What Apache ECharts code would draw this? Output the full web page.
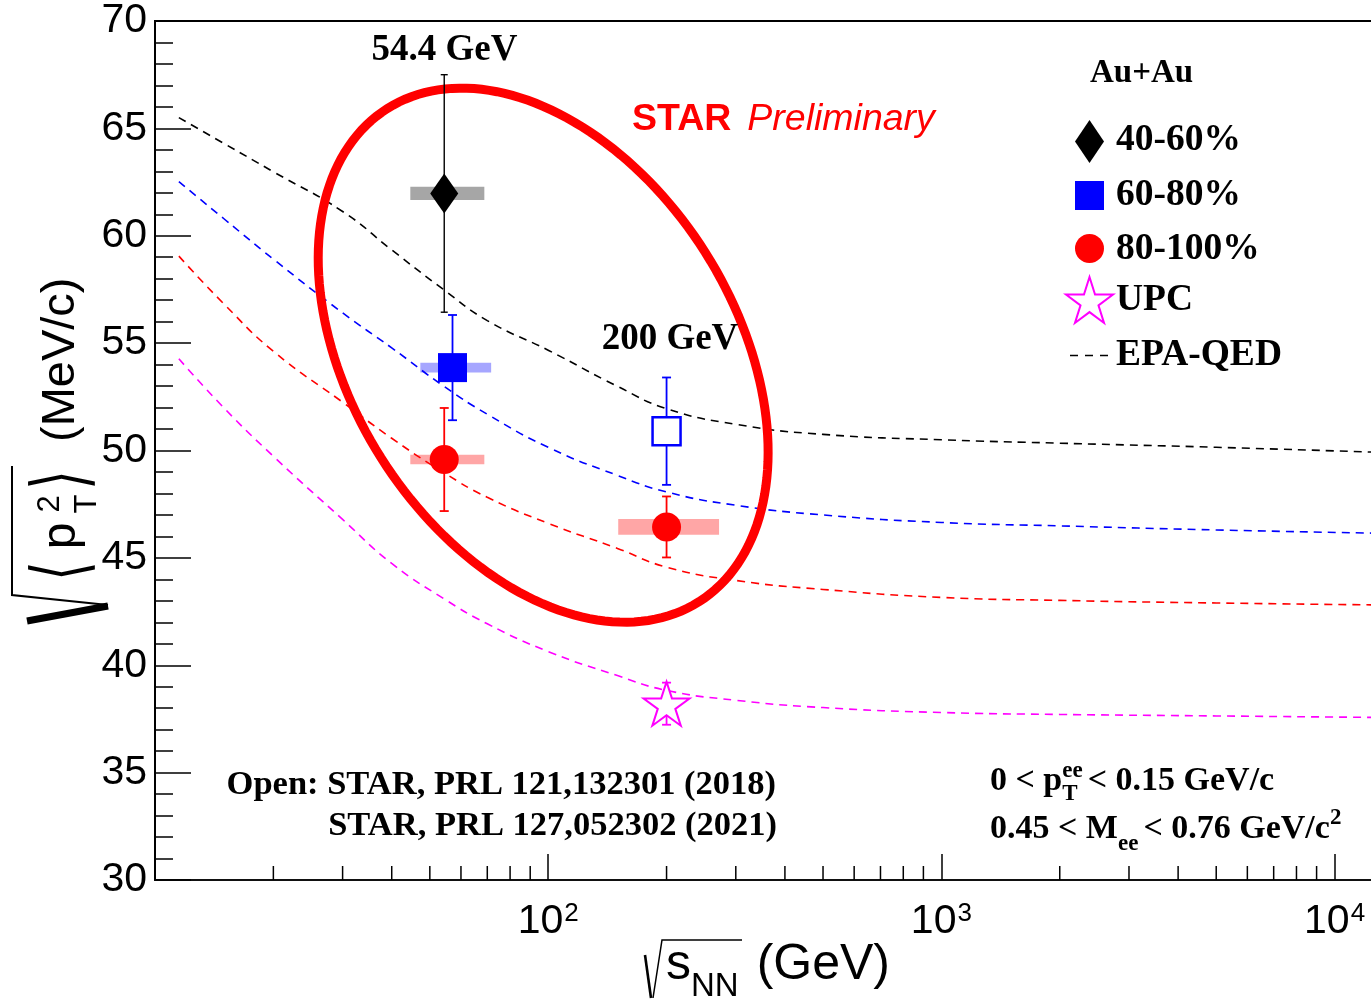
<!DOCTYPE html>
<html><head><meta charset="utf-8">
<script src="https://cdn.jsdelivr.net/npm/echarts@6/dist/echarts.min.js"></script>
<style>html,body{margin:0;padding:0;background:#fff}#c{width:1371px;height:1000px}</style>
</head><body><div id="c"></div>
<script>
// ---------------- DATA ----------------
const curveEnergies = [11.5, 15, 20, 30, 40, 54.4, 70, 100, 150, 200, 300, 500, 1000, 2000, 5000, 12745];
const epa4060  = [65.50, 64.29, 62.98, 61.13, 59.34, 57.47, 56.05, 54.67, 52.99, 51.95, 51.22, 50.75, 50.50, 50.34, 50.15, 49.92];
const epa6080  = [62.52, 60.78, 58.91, 56.41, 54.78, 52.98, 51.69, 50.15, 48.84, 48.07, 47.45, 47.00, 46.65, 46.49, 46.30, 46.15];
const epa80100 = [59.05, 56.81, 54.62, 52.25, 50.57, 48.96, 47.82, 46.61, 45.44, 44.57, 43.95, 43.53, 43.16, 43.02, 42.90, 42.81];
const epaUPC   = [54.27, 51.97, 49.73, 46.79, 44.74, 43.09, 41.93, 40.64, 39.52, 38.83, 38.37, 38.03, 37.80, 37.71, 37.64, 37.57];

const energy4060 = [54.4],  mean4060 = [61.97], stat4060 = [5.53], sys4060 = [0.31];
const sysRange4060 = [[44.6, 68.8]];
const energy6080 = [57.1],  mean6080 = [53.86], stat6080 = [2.45], sys6080 = [0.225];
const sysRange6080 = [[47.3, 71.6]];
const energy6080open = [200], mean6080open = [50.9], stat6080open = [2.5];
const energy80100 = [54.4, 200], mean80100 = [49.58, 46.44], stat80100 = [2.4, 1.42], sys80100 = [0.225, 0.365];
const sysRange80100 = [[44.6, 68.8], [150.7, 272]];
const energyUPC = [200], meanUPC = [38.21], statUPC = [0.98];

const xTickExponents = [2, 3, 4];
const xMinorTicks = [20,30,40,50,60,70,80,90,200,300,400,500,600,700,800,900,2000,3000,4000,5000,6000,7000,8000,9000];
const ellipseCenter = [97.1, 54.44];

// ---------------- HELPERS ----------------
const SERIF = '"Liberation Serif","Times New Roman",serif';
const SANS = '"Liberation Sans",Arial,Helvetica,sans-serif';
const fB = s => `bold ${s}px ${SERIF}`;
const ctx2d = document.createElement('canvas').getContext('2d');
function tw(t, font) { ctx2d.font = font; return ctx2d.measureText(t).width; }
function txt(t, x, y, font, opt) {
  opt = opt || {};
  const al = opt.align || 'left';
  const el = { type: 'text', x: x, y: y, rotation: opt.rot || 0, z: 100, silent: true,
    style: { text: t, font: font, fill: opt.fill || '#000', align: al, verticalAlign: 'middle',
             textAlign: al, textVerticalAlign: 'middle' } };
  if (opt.scaleY) el.scaleY = opt.scaleY;
  if (opt.scaleX) el.scaleX = opt.scaleX;
  return el;
}
function flow(x0, yc, pieces) {
  const els = []; let x = x0;
  for (const p of pieces) {
    if (p.stack) {
      let w = 0;
      for (const s of p.stack) { els.push(txt(s.t, x, yc + (s.dy || 0), s.font, {fill: s.fill})); w = Math.max(w, tw(s.t, s.font)); }
      x += w + (p.gap || 0);
    } else {
      els.push(txt(p.t, x, yc + (p.dy || 0), p.font, {fill: p.fill}));
      x += tw(p.t, p.font) + (p.gap || 0);
    }
  }
  return els;
}
const starPath = 'path://M0,-100 L22.45,-30.9 L95.1,-30.9 L36.33,11.8 L58.78,80.9 L0,38.2 L-58.78,80.9 L-36.33,11.8 L-95.1,-30.9 L-22.45,-30.9 Z';
const starUnit = [[0,-1],[0.2245,-0.309],[0.951,-0.309],[0.3633,0.118],[0.5878,0.809],[0,0.382],[-0.5878,0.809],[-0.3633,0.118],[-0.951,-0.309],[-0.2245,-0.309]];

function zip(xs, ys) { return xs.map((x, i) => [x, ys[i]]); }
function curveSeries(ys, color) {
  return { type: 'line', data: zip(curveEnergies, ys), symbol: 'none', smooth: 0.5,
    z: 2, silent: true, lineStyle: { color: color, width: 1.6, type: [8, 6] } };
}
function sysSeries(ranges, means, sys, color) {
  return { type: 'custom', z: 1, silent: true,
    data: ranges.map((r, i) => [r[0], r[1], means[i] - sys[i], means[i] + sys[i]]),
    encode: { x: [0, 1], y: [2, 3] },
    renderItem: (params, api) => {
      const p1 = api.coord([api.value(0), api.value(3)]);
      const p2 = api.coord([api.value(1), api.value(2)]);
      return { type: 'rect', shape: { x: p1[0], y: p1[1], width: p2[0] - p1[0], height: p2[1] - p1[1] }, style: { fill: color } };
    } };
}
function errSeries(xs, means, stats, color, lw, cap) {
  return { type: 'custom', z: 4, silent: true,
    data: xs.map((x, i) => [x, means[i] - stats[i], means[i] + stats[i]]),
    encode: { x: 0, y: [1, 2] },
    renderItem: (params, api) => {
      const a = api.coord([api.value(0), api.value(2)]);
      const b = api.coord([api.value(0), api.value(1)]);
      const st = { stroke: color, lineWidth: lw };
      return { type: 'group', children: [
        { type: 'line', shape: { x1: a[0], y1: a[1], x2: b[0], y2: b[1] }, style: st },
        { type: 'line', shape: { x1: a[0] - cap, y1: a[1], x2: a[0] + cap, y2: a[1] }, style: st },
        { type: 'line', shape: { x1: b[0] - cap, y1: b[1], x2: b[0] + cap, y2: b[1] }, style: st }
      ] };
    } };
}

// ---------------- GRAPHICS (text & legend) ----------------
const g = [];
g.push(txt('54.4 GeV', 444.5, 50, fB(37), {align: 'center'}));
g.push(txt('200 GeV', 670, 339.5, fB(37), {align: 'center'}));
g.push(...flow(632, 120, [
  { t: 'STAR', font: `bold 37.5px ${SANS}`, fill: '#ff0000', gap: 16 },
  { t: 'Preliminary', font: `italic 37.5px ${SANS}`, fill: '#ff0000' }]));
g.push(txt('Au+Au', 1090, 73, fB(33)));
g.push(txt('40-60%', 1116, 140.5, fB(37.5)));
g.push(txt('60-80%', 1116, 195.5, fB(37.5)));
g.push(txt('80-100%', 1116, 249.5, fB(37.5)));
g.push(txt('UPC', 1116, 300, fB(37.5)));
g.push(txt('EPA-QED', 1116, 355.5, fB(37.5)));
// legend symbols
g.push({ type: 'polygon', silent: true, z: 100, shape: { points: [[1089.5,120],[1104,141.5],[1089.5,163],[1075,141.5]] }, style: { fill: '#000' } });
g.push({ type: 'rect', silent: true, z: 100, shape: { x: 1075, y: 181, width: 29, height: 29 }, style: { fill: '#0000ff' } });
g.push({ type: 'circle', silent: true, z: 100, shape: { cx: 1089.5, cy: 248.5, r: 14.5 }, style: { fill: '#ff0000' } });
g.push({ type: 'polygon', silent: true, z: 100, shape: { points: starUnit.map(p => [1089.5 + p[0]*24.7, 302.4 + p[1]*25.4]) }, style: { fill: null, stroke: '#ff00ff', lineWidth: 2 } });
g.push({ type: 'line', silent: true, z: 100, shape: { x1: 1070, y1: 355.5, x2: 1108, y2: 355.5 }, style: { stroke: '#000', lineWidth: 1.6, lineDash: [8, 7] } });
// bottom-left reference text
g.push(txt('Open: STAR, PRL 121,132301 (2018)', 776, 785, fB(34.5), {align: 'right'}));
g.push(txt('STAR, PRL 127,052302 (2021)', 777, 826.5, fB(34.5), {align: 'right'}));
// bottom-right cuts
g.push(...flow(990, 781, [
  { t: '0 < p', font: fB(34) },
  { stack: [ { t: 'ee', font: fB(23), dy: -10 }, { t: 'T', font: fB(23), dy: 13 } ], gap: 5 },
  { t: '< 0.15 GeV/c', font: fB(34) }]));
g.push(...flow(990, 829, [
  { t: '0.45 < M', font: fB(34) },
  { t: 'ee', font: fB(23), dy: 15, gap: 5 },
  { t: '< 0.76 GeV/c', font: fB(34) },
  { t: '2', font: fB(23), dy: -11 }]));
// x-axis title
g.push(...flow(666, 965, [
  { t: 's', font: `50px ${SANS}` },
  { t: 'NN', font: `33px ${SANS}`, dy: 22, gap: 18 },
  { t: '(GeV)', font: `50px ${SANS}` }]));
g.push({ type: 'polyline', silent: true, z: 100, shape: { points: [[653,998],[662,940],[742,940]] }, style: { stroke: '#000', lineWidth: 1.5, fill: null } });
g.push({ type: 'line', silent: true, z: 100, shape: { x1: 645, y1: 955, x2: 651, y2: 998 }, style: { stroke: '#000', lineWidth: 2.6 } });
// y-axis title (rotated)
const R = Math.PI / 2;
g.push(txt('(MeV/c)', 61.5, 442, `47px ${SANS}`, {rot: R}));
g.push(txt('\u27E8', 66, 571, `50px "DejaVu Sans"`, {rot: R, align: 'center', scaleY: 1.5}));
g.push(txt('p', 61.5, 536, `48px ${SANS}`, {rot: R, align: 'center'}));
g.push(txt('2', 50.5, 504, `31px ${SANS}`, {rot: R, align: 'center'}));
g.push(txt('T', 87.5, 504, `31px ${SANS}`, {rot: R, align: 'center'}));
g.push(txt('\u27E9', 66, 480, `50px "DejaVu Sans"`, {rot: R, align: 'center', scaleY: 1.5}));
g.push({ type: 'polyline', silent: true, z: 100, shape: { points: [[12,466],[12,595],[108,605]] }, style: { stroke: '#000', lineWidth: 2, fill: null } });
g.push({ type: 'line', silent: true, z: 100, shape: { x1: 27, y1: 621, x2: 108, y2: 606 }, style: { stroke: '#000', lineWidth: 7 } });

// ---------------- CHART ----------------
const chart = echarts.init(document.getElementById('c'), null, { renderer: 'canvas' });
chart.setOption({
  animation: false,
  backgroundColor: '#ffffff',
  grid: { left: 155, right: -5, top: 21, bottom: 120, show: true, borderColor: '#000', borderWidth: 2,
          backgroundColor: 'transparent', containLabel: false, outerBoundsMode: 'none' },
  xAxis: {
    type: 'log', logBase: 10, min: 10, max: 12745,
    axisLine: { show: true, onZero: false, lineStyle: { color: '#111', width: 2 } },
    axisTick: { show: true, inside: true, length: 26, lineStyle: { color: '#000', width: 1.5 } },
    splitLine: { show: false }, minorTick: { show: false }, minorSplitLine: { show: false },
    axisLabel: {
      margin: 21, color: '#000', fontSize: 41, fontFamily: SANS, lineHeight: 41,
      formatter: v => {
        const l = Math.log10(v), e = Math.round(l);
        if (Math.abs(l - e) > 1e-6 || xTickExponents.indexOf(e) < 0) return '';
        return '10{sup|' + e + '}';
      },
      rich: { sup: { fontSize: 26, lineHeight: 26, fontFamily: SANS, color: '#000', verticalAlign: 'top', padding: [0, 0, 0, 1] } }
    }
  },
  yAxis: {
    type: 'value', min: 30, max: 70, interval: 5,
    axisLine: { show: true, lineStyle: { color: '#000', width: 2 } },
    axisTick: { show: true, inside: true, length: 36, lineStyle: { color: '#000', width: 1.5 } },
    minorTick: { show: true, splitNumber: 5, length: 18, lineStyle: { color: '#000', width: 1.5 } },
    splitLine: { show: false }, minorSplitLine: { show: false },
    axisLabel: { margin: 8, color: '#000', fontSize: 41, fontFamily: SANS }
  },
  graphic: { elements: g },
  series: [
    sysSeries(sysRange4060, mean4060, sys4060, '#a6a6a6'),
    sysSeries(sysRange6080, mean6080, sys6080, '#a6a6ff'),
    sysSeries(sysRange80100, mean80100, sys80100, '#ffa6a6'),
    curveSeries(epa4060, '#000000'),
    curveSeries(epa6080, '#0000ff'),
    curveSeries(epa80100, '#ff0000'),
    curveSeries(epaUPC, '#ff00ff'),
    { type: 'custom', z: 3, silent: true, data: [ellipseCenter], encode: { x: 0, y: 1 },
      renderItem: (params, api) => {
        const c = api.coord([api.value(0), api.value(1)]);
        const a = 291.7, b = 191.9, th = 57.7 * Math.PI / 180;
        const pts = [];
        for (let i = 0; i < 180; i++) {
          const t = i / 180 * 2 * Math.PI;
          pts.push([c[0] + a*Math.cos(t)*Math.cos(th) - b*Math.sin(t)*Math.sin(th),
                    c[1] + a*Math.cos(t)*Math.sin(th) + b*Math.sin(t)*Math.cos(th)]);
        }
        return { type: 'polygon', shape: { points: pts }, style: { fill: null, stroke: '#ff0000', lineWidth: 9 } };
      } },
    errSeries(energy4060, mean4060, stat4060, '#000000', 1.4, 3.5),
    errSeries(energy6080, mean6080, stat6080, '#0000ff', 1.8, 4.5),
    errSeries(energy6080open, mean6080open, stat6080open, '#0000ff', 1.8, 4.5),
    errSeries(energy80100, mean80100, stat80100, '#ff0000', 1.8, 4.5),
    errSeries(energyUPC, meanUPC, statUPC, '#ff00ff', 1.8, 4.5),
    { type: 'scatter', z: 5, silent: true, data: zip(energy4060, mean4060), symbol: 'diamond', symbolSize: [28, 40], itemStyle: { color: '#000', opacity: 1 } },
    { type: 'scatter', z: 5, silent: true, data: zip(energy6080, mean6080), symbol: 'rect', symbolSize: 29, itemStyle: { color: '#0000ff', opacity: 1 } },
    { type: 'scatter', z: 5, silent: true, data: zip(energy6080open, mean6080open), symbol: 'rect', symbolSize: 28, itemStyle: { color: '#ffffff', borderColor: '#0000ff', borderWidth: 2.5, opacity: 1 } },
    { type: 'scatter', z: 5, silent: true, data: zip(energy80100, mean80100), symbol: 'circle', symbolSize: 29, itemStyle: { color: '#ff0000', opacity: 1 } },
    { type: 'scatter', z: 5, silent: true, data: zip(energyUPC, meanUPC), symbol: starPath, symbolSize: [46, 44], itemStyle: { color: '#ffffff', borderColor: '#ff00ff', borderWidth: 2, opacity: 1 } },
    { type: 'custom', z: 6, silent: true, data: xMinorTicks.map(v => [v, 30]), encode: { x: 0, y: 1 },
      renderItem: (params, api) => {
        const p = api.coord([api.value(0), api.value(1)]);
        return { type: 'line', shape: { x1: p[0], y1: p[1], x2: p[0], y2: p[1] - 14 }, style: { stroke: '#000', lineWidth: 1.5 } };
      } }
  ]
});
</script>
</body></html>
